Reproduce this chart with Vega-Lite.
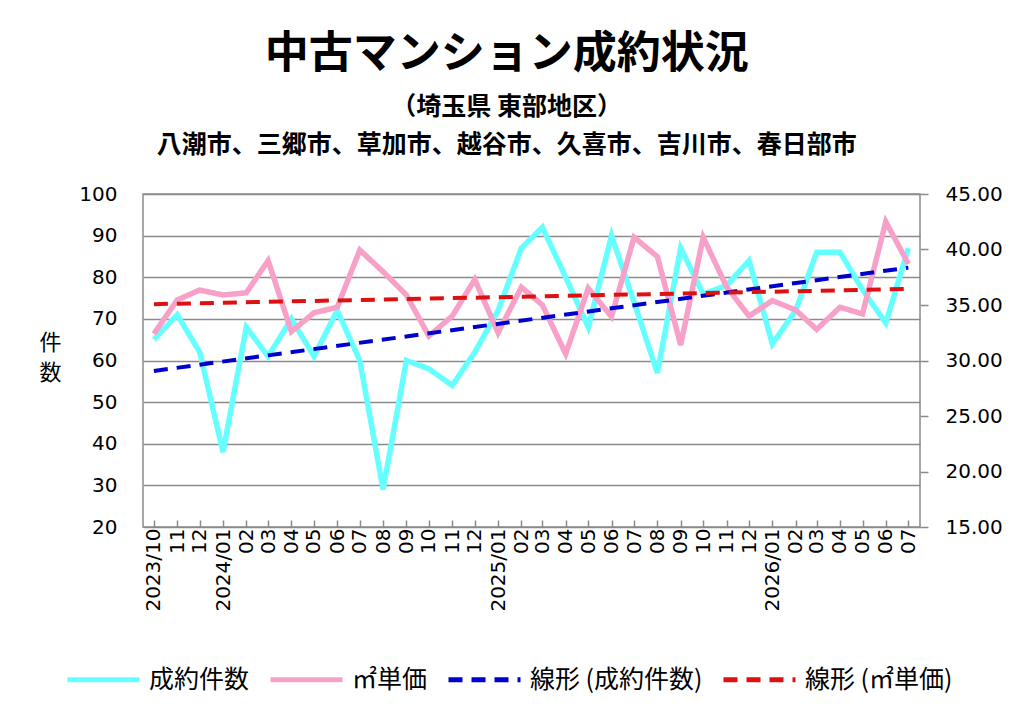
{
  "$schema": "https://vega.github.io/schema/vega-lite/v6.json",
  "description": "中古マンション成約状況（埼玉県 東部地区）: 成約件数 and ㎡単価 with linear trends",
  "width": 777,
  "height": 333,
  "padding": {"left": 38, "top": 33, "right": 10, "bottom": 5},
  "background": "white",
  "title": {
    "text": "中古マンション成約状況",
    "subtitle": ["（埼玉県 東部地区）", "八潮市、三郷市、草加市、越谷市、久喜市、吉川市、春日部市"],
    "font": "Noto Sans CJK JP",
    "fontSize": 44,
    "fontWeight": "bold",
    "color": "black",
    "subtitleFont": "Noto Sans CJK JP",
    "subtitleFontSize": 25,
    "subtitleFontWeight": "bold",
    "subtitleColor": "black",
    "subtitlePadding": 18,
    "subtitleLineHeight": 38,
    "anchor": "middle",
    "frame": "bounds",
    "offset": 26,
    "dx": -14
  },
  "config": {
    "view": {"stroke": "#8b8b8b", "strokeWidth": 1.5},
    "legend": {
      "labelFont": "Noto Sans CJK JP",
      "labelFontSize": 25,
      "labelColor": "black",
      "labelLimit": 400,
      "symbolType": "stroke",
      "symbolSize": 5184,
      "symbolStrokeWidth": 5,
      "labelOffset": 7,
      "columnPadding": 10
    }
  },
  "data": {
    "values": [
      {"date": "2023/10/01", "count": 65, "price": 32.4},
      {"date": "2023/11/01", "count": 71, "price": 35.45},
      {"date": "2023/12/01", "count": 62, "price": 36.35},
      {"date": "2024/01/01", "count": 38, "price": 35.9},
      {"date": "2024/02/01", "count": 68, "price": 36.1},
      {"date": "2024/03/01", "count": 61, "price": 39.0},
      {"date": "2024/04/01", "count": 70, "price": 32.6},
      {"date": "2024/05/01", "count": 61, "price": 34.3},
      {"date": "2024/06/01", "count": 72, "price": 34.8},
      {"date": "2024/07/01", "count": 60, "price": 39.95},
      {"date": "2024/08/01", "count": 29, "price": 38.0},
      {"date": "2024/09/01", "count": 60, "price": 35.9},
      {"date": "2024/10/01", "count": 58, "price": 32.2},
      {"date": "2024/11/01", "count": 54, "price": 34.0},
      {"date": "2024/12/01", "count": 62, "price": 37.3},
      {"date": "2025/01/01", "count": 72, "price": 32.5},
      {"date": "2025/02/01", "count": 87, "price": 36.6},
      {"date": "2025/03/01", "count": 92, "price": 35.0},
      {"date": "2025/04/01", "count": 80, "price": 30.6},
      {"date": "2025/05/01", "count": 68, "price": 36.5},
      {"date": "2025/06/01", "count": 90, "price": 33.95},
      {"date": "2025/07/01", "count": 74, "price": 41.1},
      {"date": "2025/08/01", "count": 57, "price": 39.35},
      {"date": "2025/09/01", "count": 87, "price": 31.4},
      {"date": "2025/10/01", "count": 76, "price": 41.1},
      {"date": "2025/11/01", "count": 78, "price": 36.65},
      {"date": "2025/12/01", "count": 84, "price": 34.0},
      {"date": "2026/01/01", "count": 64, "price": 35.4},
      {"date": "2026/02/01", "count": 72, "price": 34.55},
      {"date": "2026/03/01", "count": 86, "price": 32.8},
      {"date": "2026/04/01", "count": 86, "price": 34.8},
      {"date": "2026/05/01", "count": 77, "price": 34.2},
      {"date": "2026/06/01", "count": 69, "price": 42.5},
      {"date": "2026/07/01", "count": 87, "price": 38.7}
    ],
    "format": {"parse": {"date": "date"}}
  },
  "encoding": {
    "x": {
      "field": "date",
      "type": "temporal",
      "scale": {
        "domain": [
          {"year": 2023, "month": 9, "date": 16, "hours": 12},
          {"year": 2026, "month": 7, "date": 16, "hours": 12}
        ]
      },
      "axis": {
        "orient": "bottom",
        "title": null,
        "tickCount": {"interval": "month", "step": 1},
        "labelExpr": "month(datum.value) == 0 || (year(datum.value) == 2023 && month(datum.value) == 9) ? timeFormat(datum.value, '%Y/%m') : timeFormat(datum.value, '%m')",
        "labelAngle": 270,
        "labelFont": "DejaVu Sans",
        "labelFontSize": 20,
        "labelColor": "black",
        "labelPadding": 8,
        "labelOverlap": false,
        "labelFlush": false,
        "labelBound": false,
        "tickSize": -7,
        "tickColor": "#8b8b8b",
        "tickWidth": 1.5,
        "domain": false,
        "grid": false
      }
    },
    "color": {
      "scale": {
        "domain": ["成約件数", "㎡単価", "線形 (成約件数)", "線形 (㎡単価)"],
        "range": ["#66FFFF", "#F7A1C9", "#0000CC", "#DD1111"]
      },
      "legend": {"title": null, "orient": "none", "direction": "horizontal", "legendX": -78, "legendY": 447}
    },
    "strokeDash": {
      "scale": {
        "domain": ["成約件数", "㎡単価", "線形 (成約件数)", "線形 (㎡単価)"],
        "range": [[1, 0], [1, 0], [14, 9], [14, 9]]
      },
      "legend": {"title": null, "orient": "none", "direction": "horizontal", "legendX": -78, "legendY": 447}
    }
  },
  "layer": [
    {
      "mark": {"type": "line", "strokeWidth": 5.5},
      "encoding": {
        "y": {
          "field": "count",
          "type": "quantitative",
          "scale": {"domain": [20, 100]},
          "axis": {
            "orient": "left",
            "values": [20, 30, 40, 50, 60, 70, 80, 90, 100],
            "ticks": false,
            "domain": false,
            "labelPadding": 26,
            "labelFont": "DejaVu Sans",
            "labelFontSize": 20,
            "labelColor": "black",
            "gridColor": "#8b8b8b",
            "gridWidth": 1.5,
            "title": ["件", "数"],
            "titleAngle": 0,
            "titleFont": "Noto Sans CJK JP",
            "titleFontSize": 22,
            "titleFontWeight": "normal",
            "titleColor": "black",
            "titleX": -93,
            "titleY": 138,
            "titleAlign": "center",
            "titleBaseline": "top",
            "titleLineHeight": 30
          }
        },
        "color": {"datum": "成約件数"},
        "strokeDash": {"datum": "成約件数"}
      }
    },
    {
      "mark": {"type": "line", "strokeWidth": 5.5},
      "encoding": {
        "y": {
          "field": "price",
          "type": "quantitative",
          "scale": {"domain": [15, 45]},
          "axis": {
            "orient": "right",
            "values": [15, 20, 25, 30, 35, 40, 45],
            "format": ".2f",
            "grid": false,
            "domain": false,
            "tickSize": 8,
            "tickColor": "#8b8b8b",
            "tickWidth": 1.5,
            "labelPadding": 17,
            "labelFont": "DejaVu Sans",
            "labelFontSize": 20,
            "labelColor": "black",
            "title": null
          }
        },
        "color": {"datum": "㎡単価"},
        "strokeDash": {"datum": "㎡単価"}
      }
    },
    {
      "transform": [{"regression": "count", "on": "date"}],
      "mark": {"type": "line", "strokeWidth": 4},
      "encoding": {
        "y": {"field": "count", "type": "quantitative", "scale": {"domain": [20, 100]}, "axis": null},
        "color": {"datum": "線形 (成約件数)"},
        "strokeDash": {"datum": "線形 (成約件数)"}
      }
    },
    {
      "transform": [{"regression": "price", "on": "date"}],
      "mark": {"type": "line", "strokeWidth": 4},
      "encoding": {
        "y": {"field": "price", "type": "quantitative", "scale": {"domain": [15, 45]}, "axis": null},
        "color": {"datum": "線形 (㎡単価)"},
        "strokeDash": {"datum": "線形 (㎡単価)"}
      }
    }
  ],
  "resolve": {"scale": {"y": "independent"}}
}
